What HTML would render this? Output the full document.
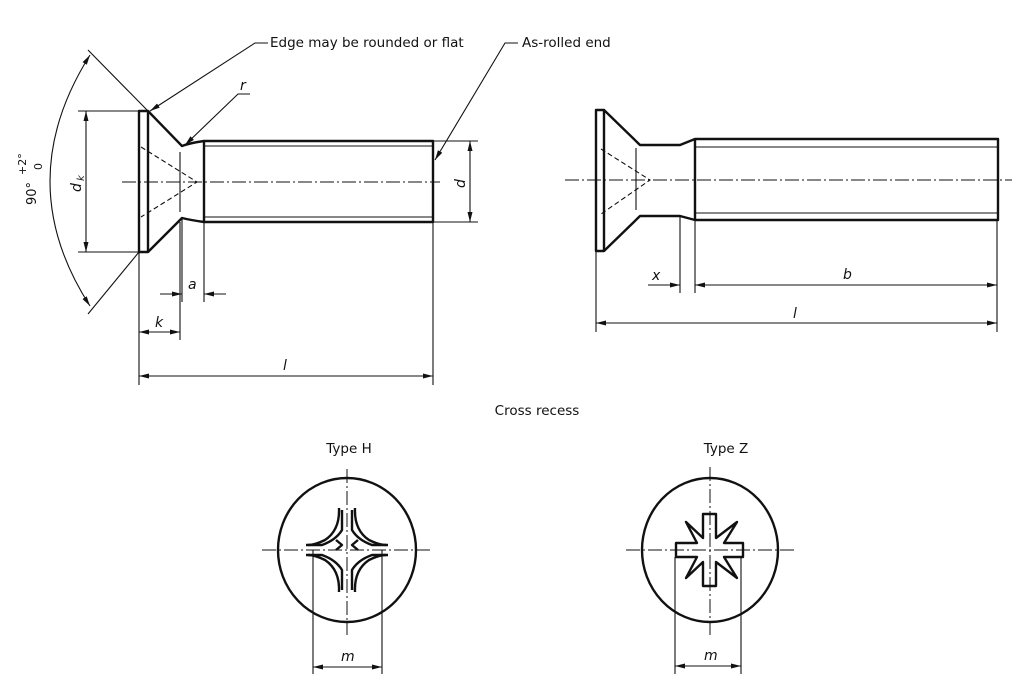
<!DOCTYPE html>
<html><head><meta charset="utf-8"><style>
html,body{margin:0;padding:0;background:#fff}
svg{display:block}
text{font-family:"DejaVu Sans","Liberation Sans",sans-serif;fill:#111}
.t{stroke:#111;stroke-width:2.4;fill:none;stroke-linejoin:round}
.n{stroke:#111;stroke-width:1.1;fill:none}
.c{stroke:#111;stroke-width:1;fill:none;stroke-dasharray:14 3 2 3}
.d{stroke:#111;stroke-width:1.1;fill:none;stroke-dasharray:5 3}
</style></head><body>
<svg width="1024" height="679" viewBox="0 0 1024 679" xmlns="http://www.w3.org/2000/svg">
<defs><marker id="a" viewBox="0 0 10 6" refX="10" refY="3" markerWidth="10" markerHeight="6" orient="auto-start-reverse" markerUnits="userSpaceOnUse"><path d="M0,0.5 L10,3 L0,5.5z" fill="#111"/></marker></defs>

<!-- LEFT SCREW -->
<path class="t" d="M139,111 H148 V252 H139 Z"/>
<path class="t" d="M148,111 L182,146 Q190,143 204,141 H433 V222 H204 Q190,220 182,218 L148,252"/>
<line class="t" x1="204" y1="141" x2="204" y2="222"/>
<line class="n" x1="204" y1="146" x2="433" y2="146"/>
<line class="n" x1="204" y1="217" x2="433" y2="217"/>
<line class="n" x1="180" y1="152" x2="180" y2="212"/>
<path class="d" d="M141,147 L197,182 L141,217"/>
<line class="c" x1="122" y1="182" x2="440" y2="182"/>
<!-- dk -->
<line class="n" x1="78" y1="111" x2="139" y2="111"/><line class="n" x1="78" y1="252" x2="139" y2="252"/>
<line class="n" x1="86" y1="111" x2="86" y2="252" marker-start="url(#a)" marker-end="url(#a)"/>
<text font-size="14" font-style="italic" transform="translate(81,192) rotate(-90)">d</text>
<text font-size="10" font-style="italic" transform="translate(84,181) rotate(-90)">k</text>
<!-- d -->
<line class="n" x1="433" y1="141" x2="478" y2="141"/><line class="n" x1="433" y1="222" x2="478" y2="222"/>
<line class="n" x1="470" y1="141" x2="470" y2="222" marker-start="url(#a)" marker-end="url(#a)"/>
<text x="465" y="188" font-size="14" font-style="italic" transform="rotate(-90 465 188)">d</text>
<!-- angle -->
<line class="n" x1="148" y1="111" x2="88" y2="50"/><line class="n" x1="139" y1="252" x2="88" y2="314"/>
<path class="n" d="M90,55 Q10,182 90,306" marker-start="url(#a)" marker-end="url(#a)"/>
<text x="36" y="205" font-size="13" transform="rotate(-90 36 205)">90°</text>
<text x="26" y="175" font-size="11" transform="rotate(-90 26 175)">+2°</text>
<text x="42" y="170" font-size="11" transform="rotate(-90 42 170)">0</text>
<!-- a -->
<line class="n" x1="182" y1="218" x2="182" y2="302"/>
<line class="n" x1="204" y1="222" x2="204" y2="302"/>
<line class="n" x1="160" y1="294" x2="182" y2="294" marker-end="url(#a)"/>
<line class="n" x1="226" y1="294" x2="204" y2="294" marker-end="url(#a)"/>
<text x="188" y="289" font-size="14" font-style="italic">a</text>
<!-- k -->
<line class="n" x1="139" y1="252" x2="139" y2="385"/>
<line class="n" x1="180" y1="222" x2="180" y2="340"/>
<line class="n" x1="139" y1="332" x2="180" y2="332" marker-start="url(#a)" marker-end="url(#a)"/>
<text x="155" y="327" font-size="14" font-style="italic">k</text>
<!-- l -->
<line class="n" x1="433" y1="222" x2="433" y2="385"/>
<line class="n" x1="139" y1="376" x2="433" y2="376" marker-start="url(#a)" marker-end="url(#a)"/>
<text x="283" y="370" font-size="14" font-style="italic">l</text>
<!-- leaders -->
<polyline class="n" points="268,43 255,43 150,111" marker-end="url(#a)"/>
<text x="270" y="47" font-size="13.5">Edge may be rounded or flat</text>
<polyline class="n" points="250,94 238,94 185,145" marker-end="url(#a)"/>
<text x="240" y="90" font-size="14" font-style="italic">r</text>
<polyline class="n" points="518,43 505,43 435,160" marker-end="url(#a)"/>
<text x="522" y="47" font-size="13.5">As-rolled end</text>

<!-- RIGHT SCREW -->
<path class="t" d="M596,110 H604 V251 H596 Z"/>
<path class="t" d="M604,110 L640,145 H680 L695,139 H998 V220 H695 L680,216 H640 L604,251"/>
<line class="t" x1="695" y1="139" x2="695" y2="220"/>
<line class="n" x1="695" y1="147" x2="998" y2="147"/>
<line class="n" x1="695" y1="213" x2="998" y2="213"/>
<line class="n" x1="636" y1="148" x2="636" y2="210"/>
<path class="d" d="M601,149 L650,180 L601,214"/>
<line class="c" x1="565" y1="180" x2="1012" y2="180"/>
<line class="n" x1="680" y1="216" x2="680" y2="293"/>
<line class="n" x1="695" y1="220" x2="695" y2="293"/>
<line class="n" x1="648" y1="285" x2="680" y2="285" marker-end="url(#a)"/>
<line class="n" x1="695" y1="285" x2="997" y2="285" marker-start="url(#a)" marker-end="url(#a)"/>
<text x="652" y="280" font-size="14" font-style="italic">x</text>
<text x="843" y="279" font-size="14" font-style="italic">b</text>
<line class="n" x1="596" y1="251" x2="596" y2="332"/>
<line class="n" x1="997" y1="220" x2="997" y2="332"/>
<line class="n" x1="596" y1="323" x2="997" y2="323" marker-start="url(#a)" marker-end="url(#a)"/>
<text x="793" y="318" font-size="14" font-style="italic">l</text>

<text x="537" y="415" font-size="13.5" text-anchor="middle">Cross recess</text>
<text x="349" y="453" font-size="13.5" text-anchor="middle">Type H</text>
<text x="726" y="453" font-size="13.5" text-anchor="middle">Type Z</text>

<!-- TYPE H -->
<ellipse class="t" cx="347" cy="550" rx="69" ry="72"/>
<line class="c" x1="262" y1="550" x2="432" y2="550"/>
<line class="c" x1="347" y1="469" x2="347" y2="635"/>
<g class="t" stroke-width="2">
<path d="M342,510 V530 Q336,540 322,545 H306"/>
<path d="M352,510 V530 Q358,540 372,545 H388"/>
<path d="M342,590 V570 Q336,560 322,555 H306"/>
<path d="M352,590 V570 Q358,560 372,555 H388"/>
<path d="M339,508 Q340,530 325,540 Q315,545 308,545"/>
<path d="M355,508 Q354,530 369,540 Q379,545 386,545"/>
<path d="M339,592 Q340,570 325,560 Q315,555 308,555"/>
<path d="M355,592 Q354,570 369,560 Q379,555 386,555"/>
<path d="M336,540 L342,545 L336,550 M358,540 L352,545 L358,550"/>
</g>
<line class="n" x1="313" y1="550" x2="313" y2="674"/>
<line class="n" x1="382" y1="550" x2="382" y2="674"/>
<line class="n" x1="313" y1="667" x2="382" y2="667" marker-start="url(#a)" marker-end="url(#a)"/>
<text x="341" y="661" font-size="14" font-style="italic">m</text>

<!-- TYPE Z -->
<ellipse class="t" cx="710" cy="550" rx="68" ry="72"/>
<line class="c" x1="626" y1="550" x2="795" y2="550"/>
<line class="c" x1="710" y1="467" x2="710" y2="635"/>
<path class="t" stroke-width="2" d="M703,514 H716 V538 L737,522 L724,543 H743 V557 H724 L737,578 L716,562 V586 H703 V562 L686,578 L697,557 H676 V543 H697 L686,522 L703,538 Z"/>
<line class="n" x1="675" y1="557" x2="675" y2="674"/>
<line class="n" x1="741" y1="557" x2="741" y2="674"/>
<line class="n" x1="675" y1="666" x2="741" y2="666" marker-start="url(#a)" marker-end="url(#a)"/>
<text x="704" y="660" font-size="14" font-style="italic">m</text>
</svg>
</body></html>
